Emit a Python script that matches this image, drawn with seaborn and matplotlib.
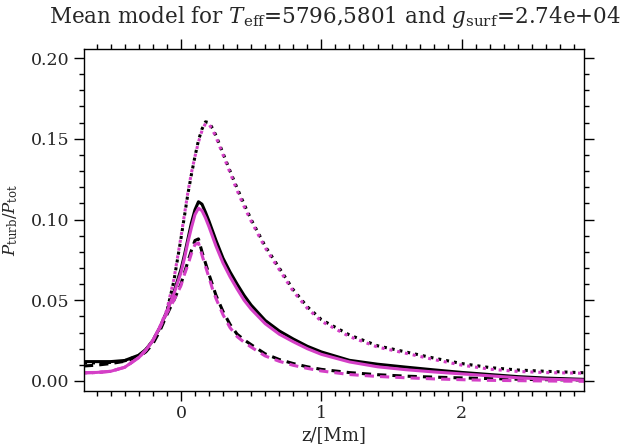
import numpy as np
import pandas as pd
import matplotlib
matplotlib.use("Agg")
import matplotlib.pyplot as plt
from matplotlib.ticker import MultipleLocator, FormatStrFormatter
import seaborn as sns

# ---- data ----
z = [-0.69, -0.6, -0.5, -0.4, -0.3, -0.25, -0.2, -0.15, -0.1, -0.05,
     0.0, 0.025, 0.05, 0.075, 0.1, 0.125, 0.15, 0.175, 0.2, 0.225,
     0.25, 0.3, 0.35, 0.4, 0.45, 0.5, 0.6, 0.7, 0.8, 0.9,
     1.0, 1.2, 1.4, 1.6, 1.8, 2.0, 2.2, 2.4, 2.6, 2.87]

black_solid = [0.012, 0.012, 0.012, 0.0127, 0.016, 0.0195, 0.025, 0.033, 0.043, 0.055,
               0.069, 0.078, 0.088, 0.098, 0.106, 0.111, 0.1095, 0.1045, 0.099, 0.093,
               0.087, 0.076, 0.0675, 0.060, 0.053, 0.047, 0.0375, 0.031, 0.026, 0.0215,
               0.018, 0.0128, 0.0104, 0.0086, 0.0069, 0.0053, 0.0040, 0.0027, 0.0018, 0.0010]
magenta_solid = [0.0052, 0.0053, 0.0060, 0.0085, 0.0145, 0.019, 0.025, 0.0335, 0.043, 0.054,
                 0.067, 0.076, 0.086, 0.095, 0.103, 0.107, 0.1055, 0.101, 0.0955, 0.0895,
                 0.0835, 0.073, 0.0645, 0.057, 0.050, 0.0445, 0.0355, 0.029, 0.0243, 0.0200,
                 0.0165, 0.0118, 0.0088, 0.0070, 0.0056, 0.0044, 0.0032, 0.0020, 0.0011, 0.0006]
black_dashed = [0.0093, 0.0098, 0.0108, 0.0122, 0.0150, 0.018, 0.023, 0.031, 0.041, 0.050,
                0.060, 0.067, 0.074, 0.081, 0.087, 0.088, 0.080, 0.073, 0.066, 0.0595,
                0.053, 0.043, 0.035, 0.029, 0.0255, 0.0225, 0.0168, 0.0133, 0.0108, 0.0088,
                0.0072, 0.0052, 0.0039, 0.0030, 0.0024, 0.0019, 0.0015, 0.0011, 0.0008, 0.0006]
magenta_dashed = [0.0050, 0.0052, 0.0060, 0.0085, 0.0145, 0.019, 0.025, 0.033, 0.042, 0.050,
                  0.059, 0.066, 0.072, 0.079, 0.0845, 0.0855, 0.078, 0.071, 0.064, 0.057,
                  0.051, 0.041, 0.033, 0.0275, 0.024, 0.021, 0.0155, 0.0122, 0.0097, 0.0078,
                  0.0062, 0.0040, 0.0028, 0.0020, 0.0013, 0.0008, 0.0004, 0.0002, 0.0000, -0.0002]
black_dotted = [0.0112, 0.0112, 0.0115, 0.0125, 0.0158, 0.0193, 0.025, 0.033, 0.043, 0.062,
                0.088, 0.102, 0.116, 0.128, 0.139, 0.149, 0.156, 0.1605, 0.160, 0.1565,
                0.152, 0.141, 0.130, 0.1195, 0.1095, 0.100, 0.0835, 0.070, 0.0565, 0.046,
                0.038, 0.0285, 0.0218, 0.0180, 0.0142, 0.0108, 0.0083, 0.0068, 0.0060, 0.0051]
magenta_dotted = [0.0050, 0.0052, 0.0060, 0.0085, 0.0145, 0.019, 0.025, 0.0335, 0.044, 0.063,
                  0.089, 0.103, 0.117, 0.129, 0.139, 0.148, 0.155, 0.1595, 0.159, 0.1555,
                  0.151, 0.140, 0.129, 0.118, 0.108, 0.099, 0.0825, 0.069, 0.0555, 0.045,
                  0.037, 0.0275, 0.021, 0.0172, 0.0133, 0.0098, 0.0073, 0.0059, 0.0052, 0.0048]

title = r"Mean model for $T_{\rm eff}$=5796,5801 and $g_{\rm surf}$=2.74e+04"
xlabel = "z/[Mm]"
ylabel = r"$P_{\rm turb}/P_{\rm tot}$"

MAG = "#d43fc6"

sns.set_style("ticks")
plt.rcParams["font.family"] = ["DejaVu Serif"]
plt.rcParams["mathtext.fontset"] = "dejavuserif"

fig = plt.figure(figsize=(6.31, 4.48), dpi=100)
ax = fig.add_axes([84 / 631, 1 - 391 / 448, 500 / 631, 342 / 448])

series = [
    (black_solid, "black", None),
    (black_dashed, "black", (3, 2)),
    (black_dotted, "black", (1, 1.6)),
    (magenta_solid, MAG, None),
    (magenta_dashed, MAG, (3, 2)),
    (magenta_dotted, MAG, (1, 1.6)),
]
for vals, col, dash in series:
    kw = dict(color=col, linewidth=2.2)
    if dash is not None:
        kw["dashes"] = dash
    sns.lineplot(x=z, y=vals, ax=ax, sort=False, **kw)

ax.set_xlim(-0.69, 2.87)
ax.set_ylim(-0.0062, 0.2056)
ax.xaxis.set_major_locator(MultipleLocator(1))
ax.xaxis.set_minor_locator(MultipleLocator(0.1))
ax.yaxis.set_major_locator(MultipleLocator(0.05))
ax.yaxis.set_minor_locator(MultipleLocator(0.01))
ax.yaxis.set_major_formatter(FormatStrFormatter("%.2f"))
ax.tick_params(which="both", direction="out", top=True, right=True,
               labeltop=False, labelright=False, color="black", width=1)
ax.tick_params(which="major", length=7.2, labelsize=12.5, pad=3)
ax.tick_params(which="minor", length=3.6)
for sp in ax.spines.values():
    sp.set_linewidth(1)
    sp.set_color("black")

ax.set_xlabel(xlabel, fontsize=13, labelpad=3)
ax.set_ylabel(ylabel, fontsize=12, labelpad=8)
fig.text(0.531, 0.962, title, ha="center", va="center", fontsize=15.5)

fig.savefig("out.png", dpi=100)
